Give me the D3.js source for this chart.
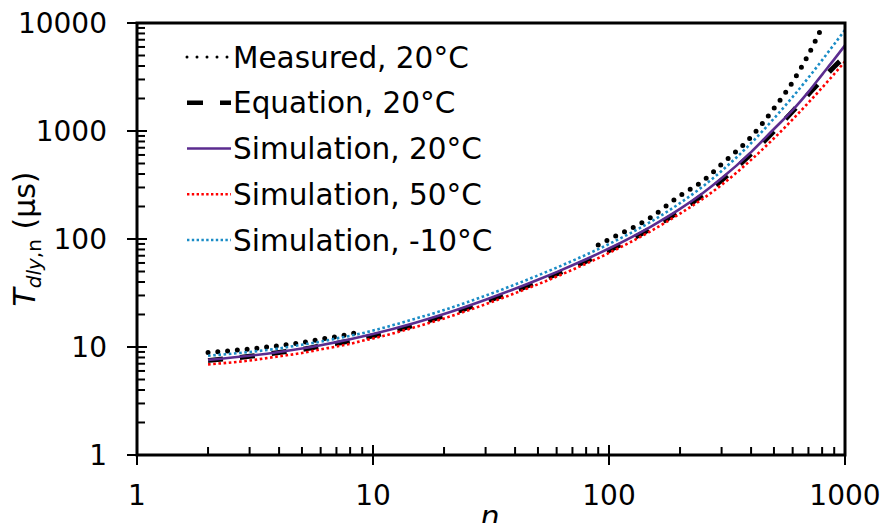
<!DOCTYPE html>
<html>
<head>
<meta charset="utf-8">
<script src="https://cdn.jsdelivr.net/npm/d3@7"></script>
<style>
  html, body { margin: 0; padding: 0; background: #fff; }
  svg { display: block; }
  text { font-family: "DejaVu Sans", Verdana, sans-serif; fill: #000; }
</style>
</head>
<body>
<svg id="chart" width="885" height="523"></svg>
<script>
// ---- data ----
const nValues = [2,3,4,5,6,7,8,9,10,15,20,30,40,50,60,70,80,90,100,150,200,250,300,400,500,600,700,800,900,1000];

const measured20 = [8.9,9.6,10.3,11.0,11.8,12.5,13.2,13.9,
  null,null,null,null,null,null,null,null,null,
  88,99,158,252,345,493,880,1620,2850,5100,9200,null,null];

const equation20 = [7.5,8.2,8.9,9.5,10.2,10.8,11.4,12.1,12.7,16.0,19.4,26.3,33.2,40.2,47.4,54.8,62.4,70.3,78.4,124.6,182,256,350,612,995,1520,2190,3000,3940,4900];

const simulation20 = [7.6,8.3,9.0,9.7,10.4,11.1,11.8,12.5,13.2,16.7,20.2,27.4,34.6,41.9,49.4,57.1,65.0,73.2,81.7,129.8,190,267,365,638,1044,1560,2300,3330,4600,6206];

const simulation50 = [6.9,7.5,8.2,8.8,9.5,10.1,10.7,11.4,12.0,15.2,18.4,24.9,31.5,38.1,44.9,51.9,59.1,66.5,74.3,118,172,236,317,540,856,1280,1830,2520,3370,4400];

const simulationM10 = [8.3,9.0,9.7,10.5,11.2,12.0,12.7,13.4,14.2,18.2,22.0,29.9,37.9,46.0,54.3,62.8,71.5,80.5,89.9,144,215,307,427,772,1305,2066,3120,4530,6365,8626];

const seriesNames = ["Measured, 20°C","Equation, 20°C","Simulation, 20°C","Simulation, 50°C","Simulation, -10°C"];
const xTickLabels = ["1","10","100","1000"];
const yTickLabels = ["1","10","100","1000","10000"];
const xMajor = [1,10,100,1000];
const yMajor = [1,10,100,1000,10000];

// ---- layout ----
const L = 137, R = 845, T = 23, B = 455;
const svg = d3.select("#chart");

const x = d3.scaleLog().domain([1,1000]).range([L,R]);
const y = d3.scaleLog().domain([1,10000]).range([B,T]);

const styles = [
  {stroke:"#000", width:5, dash:"0,9.8", cap:"round"},
  {stroke:"#000", width:5, dash:"15,17", cap:"butt"},
  {stroke:"#5B2C8F", width:2.6, dash:null, cap:"butt"},
  {stroke:"#FF0000", width:2.6, dash:"2.6,2.6", cap:"butt"},
  {stroke:"#1A8CC6", width:2.6, dash:"2.6,2.6", cap:"butt"}
];
const legendStyles = [
  {stroke:"#000", width:3, dash:"0,10", cap:"round"},
  {stroke:"#000", width:4.5, dash:"16,17", cap:"butt"},
  {stroke:"#5B2C8F", width:2.6, dash:null, cap:"butt"},
  {stroke:"#FF0000", width:2.4, dash:"2.4,2.4", cap:"butt"},
  {stroke:"#1A8CC6", width:2.4, dash:"2.4,2.4", cap:"butt"}
];

const allSeries = [measured20, equation20, simulation20, simulation50, simulationM10];

svg.append("defs").append("clipPath").attr("id","plotclip")
  .append("rect").attr("x",L).attr("y",T).attr("width",R-L).attr("height",B-T);

// ---- minor/major ticks ----
const minorVals = [];
for (let d = 1; d < 10000; d *= 10) for (let k = 2; k <= 9; k++) minorVals.push(d*k);
const xMinor = minorVals.filter(v => v < 1000);
const yMinor = minorVals.filter(v => v < 10000);

const tickG = svg.append("g").attr("stroke","#000").attr("stroke-width",2);
tickG.selectAll(".xmin").data(xMinor).join("line")
  .attr("x1",d=>x(d)).attr("x2",d=>x(d)).attr("y1",B).attr("y2",B-8);
tickG.selectAll(".xmaj").data(xMajor).join("line")
  .attr("x1",d=>x(d)).attr("x2",d=>x(d)).attr("y1",B+10).attr("y2",B-10);
tickG.selectAll(".ymin").data(yMinor).join("line")
  .attr("y1",d=>y(d)).attr("y2",d=>y(d)).attr("x1",L).attr("x2",L+8);
tickG.selectAll(".ymaj").data(yMajor).join("line")
  .attr("y1",d=>y(d)).attr("y2",d=>y(d)).attr("x1",L-10).attr("x2",L+10);

// ---- series ----
const line = d3.line()
  .defined(d => d[1] != null)
  .x(d => x(d[0])).y(d => y(d[1]))
  .curve(d3.curveMonotoneX);

const plotG = svg.append("g").attr("clip-path","url(#plotclip)");
allSeries.forEach((vals, i) => {
  const pts = nValues.map((n, j) => [n, vals[j]]);
  const s = styles[i];
  plotG.append("path").datum(pts)
    .attr("d", line)
    .attr("fill","none")
    .attr("stroke", s.stroke)
    .attr("stroke-width", s.width)
    .attr("stroke-linecap", s.cap)
    .attr("stroke-dasharray", s.dash);
});

// ---- frame ----
svg.append("rect").attr("x",L).attr("y",T).attr("width",R-L).attr("height",B-T)
  .attr("fill","none").attr("stroke","#000").attr("stroke-width",3);

// ---- tick labels ----
svg.append("g").selectAll("text").data(xMajor).join("text")
  .attr("x",d=>x(d)).attr("y",505)
  .attr("text-anchor","middle").attr("font-size",28)
  .text((d,i)=>xTickLabels[i]);
svg.append("g").selectAll("text").data(yMajor).join("text")
  .attr("x",107).attr("y",d=>y(d)+10)
  .attr("text-anchor","end").attr("font-size",28)
  .text((d,i)=>yTickLabels[i]);

// ---- axis titles ----
svg.append("text").attr("x",490).attr("y",527)
  .attr("text-anchor","middle").attr("font-size",30).attr("font-style","italic").text("n");

const yl = svg.append("text")
  .attr("transform","translate(35,239) rotate(-90)")
  .attr("text-anchor","middle").attr("font-size",30);
yl.append("tspan").attr("font-style","italic").text("T");
yl.append("tspan").attr("font-style","italic").attr("font-size",20).attr("dy",6).text("dly");
yl.append("tspan").attr("font-size",20).text(",n");
yl.append("tspan").attr("dy",-6).text(" (µs)");

// ---- legend ----
const legY = d3.scaleLinear().domain([0,4]).range([57,240]);
const legG = svg.append("g");
seriesNames.forEach((name, i) => {
  const s = legendStyles[i];
  const yy = legY(i);
  legG.append("line").attr("x1",187).attr("x2",231).attr("y1",yy).attr("y2",yy)
    .attr("stroke",s.stroke).attr("stroke-width",s.width)
    .attr("stroke-linecap",s.cap).attr("stroke-dasharray",s.dash);
  legG.append("text").attr("x",233).attr("y",yy+10.5)
    .attr("font-size",29.5).text(name);
});
</script>
</body>
</html>
